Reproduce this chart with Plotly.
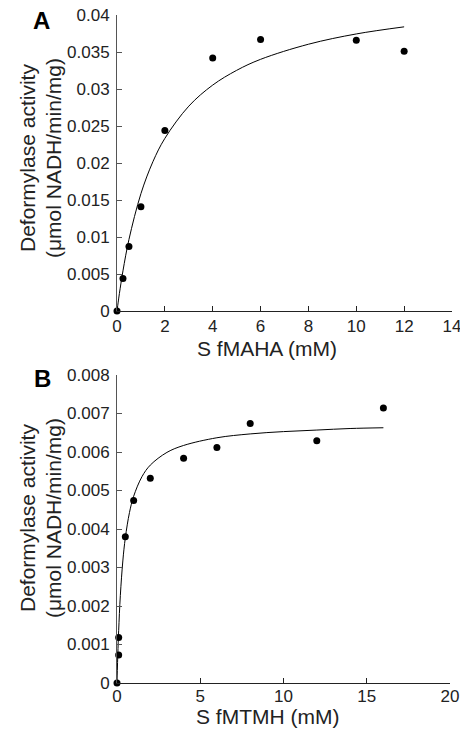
import plotly.graph_objects as go

# Panel A data: fMAHA
a_s = [0, 0.25, 0.5, 1, 2, 4, 6, 10, 12]
a_v = [0, 0.0044, 0.0087, 0.0141, 0.0244, 0.0342, 0.0367, 0.0366, 0.0351]
# Panel A fitted curve
a_fit_s = [0, 0.05, 0.1, 0.25, 0.5, 1, 1.5, 2, 3, 4, 5, 6, 8, 10, 12]
a_fit_v = [0, 0.0012, 0.00235, 0.00543, 0.00967, 0.01586, 0.02017, 0.02333,
           0.02768, 0.03053, 0.03252, 0.03401, 0.03605, 0.03744, 0.0384]

# Panel B data: fMTMH
b_s = [0, 0.1, 0.1, 0.5, 1, 2, 4, 6, 8, 12, 16]
b_v = [0, 0.00073, 0.00118, 0.0038, 0.00474, 0.00532, 0.00584, 0.00612, 0.00674, 0.00629, 0.00714]
b_fit_s = [0, 0.02, 0.05, 0.1, 0.2, 0.35, 0.5, 0.75, 1, 1.5, 2, 3, 4, 6, 8, 10, 12, 14, 16]
b_fit_v = [0, 0.00032, 0.000755, 0.00136, 0.00227, 0.00317, 0.00377, 0.00443, 0.00485,
           0.00536, 0.00566, 0.00599, 0.00617, 0.00637, 0.00647, 0.00653, 0.00657, 0.00661, 0.00663]

a_yticks = [0, 0.005, 0.01, 0.015, 0.02, 0.025, 0.03, 0.035, 0.04]
a_yticktext = ["0", "0.005", "0.01", "0.015", "0.02", "0.025", "0.03", "0.035", "0.04"]
a_xticks = [0, 2, 4, 6, 8, 10, 12, 14]
b_yticks = [0, 0.001, 0.002, 0.003, 0.004, 0.005, 0.006, 0.007, 0.008]
b_yticktext = ["0", "0.001", "0.002", "0.003", "0.004", "0.005", "0.006", "0.007", "0.008"]
b_xticks = [0, 5, 10, 15, 20]

W, H = 460, 729
L, R, T, B = 117, 8, 15, 46
PW, PH = W - L - R, H - T - B

def px(x):  # window pixel -> paper x
    return (x - L) / PW

def py(y):  # window pixel -> paper y
    return (H - B - y) / PH

FONT = "Liberation Sans, Arial, Helvetica, sans-serif"

fig = go.Figure()
fig.add_trace(go.Scatter(x=a_fit_s, y=a_fit_v, mode="lines", line=dict(color="black", width=1, shape="spline"),
                         xaxis="x", yaxis="y", cliponaxis=False, showlegend=False, hoverinfo="skip"))
fig.add_trace(go.Scatter(x=a_s, y=a_v, mode="markers", marker=dict(color="black", size=7),
                         xaxis="x", yaxis="y", cliponaxis=False, showlegend=False))
fig.add_trace(go.Scatter(x=b_fit_s, y=b_fit_v, mode="lines", line=dict(color="black", width=1, shape="spline"),
                         xaxis="x2", yaxis="y2", cliponaxis=False, showlegend=False, hoverinfo="skip"))
fig.add_trace(go.Scatter(x=b_s, y=b_v, mode="markers", marker=dict(color="black", size=7),
                         xaxis="x2", yaxis="y2", cliponaxis=False, showlegend=False))

def axis_common(col):
    return dict(showgrid=False, zeroline=False, showline=True, linecolor=col, linewidth=1,
                ticks="inside", ticklen=5, tickcolor=col, tickwidth=1, automargin=False,
                ticklabeloverflow="allow",
                tickfont=dict(family=FONT, size=17, color="#222"))

XC, YC = "#222222", "#555555"

fig.update_layout(
    width=W, height=H, margin=dict(l=L, r=R, t=T, b=B),
    paper_bgcolor="white", plot_bgcolor="white",
    xaxis=dict(domain=[0, 1], range=[0, 14], tickvals=a_xticks, anchor="y", **axis_common(XC)),
    yaxis=dict(domain=[py(311), 1], range=[0, 0.04], tickvals=a_yticks, ticktext=a_yticktext,
               anchor="x", ticklabelstandoff=3, **axis_common(YC)),
    xaxis2=dict(domain=[0, px(450)], range=[0, 20], tickvals=b_xticks, anchor="y2",
                ticklabelstandoff=-2, **axis_common(XC)),
    yaxis2=dict(domain=[0, py(375)], range=[0, 0.008], tickvals=b_yticks, ticktext=b_yticktext,
                anchor="x2", ticklabelstandoff=3, **axis_common(YC)),
)

tf = dict(family=FONT, size=21, color="#222")
ann = [
    dict(x=px(267), y=py(348), text="S fMAHA (mM)"),
    dict(x=px(267), y=py(717), text="S fMTMH (mM)"),
    dict(x=px(27), y=py(158), text="Deformylase activity", textangle=-90),
    dict(x=px(53), y=py(158), text="(μmol NADH/min/mg)", textangle=-90),
    dict(x=px(27), y=py(518), text="Deformylase activity", textangle=-90),
    dict(x=px(53), y=py(518), text="(μmol NADH/min/mg)", textangle=-90),
]
for a in ann:
    fig.add_annotation(xref="paper", yref="paper", showarrow=False, font=tf,
                       xanchor="center", yanchor="middle", **a)
fig.add_annotation(xref="paper", yref="paper", x=px(41), y=py(20), text="<b>A</b>", showarrow=False,
                   font=dict(family=FONT, size=24, color="black"), xanchor="center", yanchor="middle")
fig.add_annotation(xref="paper", yref="paper", x=px(42), y=py(378), text="<b>B</b>", showarrow=False,
                   font=dict(family=FONT, size=24, color="black"), xanchor="center", yanchor="middle")

fig.write_html("out.html", config={"displayModeBar": False},
               post_script="document.body.style.margin='0';document.body.style.padding='0';")
